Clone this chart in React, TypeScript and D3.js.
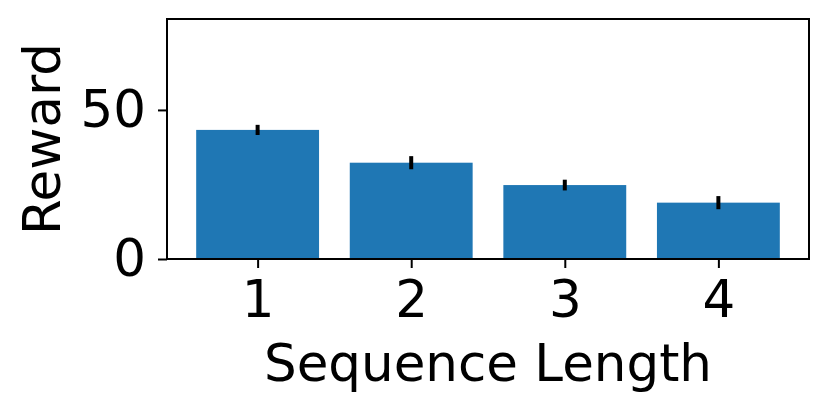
import React, { useRef, useEffect } from 'react';
import * as d3 from 'd3';

// values
const lengths = [1, 2, 3, 4];
const rewards = [43.3, 32.3, 24.8, 18.9];
const errors = [1.7, 2.2, 1.8, 2.2];
const yTicks = [0, 50];

const App = () => {
  const svgRef = useRef<SVGSVGElement>(null);

  useEffect(() => {
    const svg = d3.select(svgRef.current);
    svg.selectAll('*').remove();

    const width = 830;
    const height = 412;
    const margin = { top: 19, right: 21, bottom: 153, left: 167 };
    const font = 'DejaVu Sans';
    const fs = 51.5;

    svg.attr('width', width).attr('height', height);

    const x = d3.scaleLinear()
      .domain([0.41, 4.59])
      .range([margin.left, width - margin.right]);

    const y = d3.scaleLinear()
      .domain([0, 80.5])
      .range([height - margin.bottom, margin.top]);

    const bw = x(1.4) - x(0.6);

    svg.append('g')
      .attr('fill', '#1f77b4')
      .selectAll('rect')
      .data(lengths)
      .join('rect')
      .attr('x', (d) => x(d) - bw / 2)
      .attr('y', (d, i) => y(rewards[i]))
      .attr('width', bw)
      .attr('height', (d, i) => y(0) - y(rewards[i]));

    // error bars
    svg.append('g')
      .attr('stroke', 'black')
      .attr('stroke-width', 4)
      .selectAll('line')
      .data(lengths)
      .join('line')
      .attr('x1', (d) => x(d))
      .attr('x2', (d) => x(d))
      .attr('y1', (d, i) => y(rewards[i] - errors[i]))
      .attr('y2', (d, i) => y(rewards[i] + errors[i]));

    // frame
    svg.append('rect')
      .attr('x', margin.left)
      .attr('y', margin.top)
      .attr('width', width - margin.left - margin.right)
      .attr('height', height - margin.top - margin.bottom)
      .attr('fill', 'none')
      .attr('stroke', 'black')
      .attr('stroke-width', 2);

    const xAxis = svg.append('g')
      .attr('transform', `translate(0, ${y(0)})`)
      .call(d3.axisBottom(x).tickValues(lengths).tickFormat(d3.format('d')).tickSize(9).tickPadding(12));
    xAxis.select('.domain').remove();

    const yAxis = svg.append('g')
      .attr('transform', `translate(${margin.left}, 0)`)
      .call(d3.axisLeft(y).tickValues(yTicks).tickSize(9).tickPadding(12));
    yAxis.select('.domain').remove();

    svg.selectAll('.tick line').attr('stroke', 'black').attr('stroke-width', 2);
    svg.selectAll('.tick text')
      .attr('font-family', font)
      .attr('font-size', fs)
      .attr('fill', 'black');

    svg.append('text')
      .attr('x', (margin.left + width - margin.right) / 2)
      .attr('y', 381)
      .attr('text-anchor', 'middle')
      .attr('font-family', font)
      .attr('font-size', fs)
      .text('Sequence Length');

    svg.append('text')
      .attr('transform', `translate(60, ${(margin.top + y(0)) / 2}) rotate(-90)`)
      .attr('text-anchor', 'middle')
      .attr('font-family', font)
      .attr('font-size', fs)
      .text('Reward');
  }, []);

  return <svg ref={svgRef} style={{ position: 'absolute', left: 0, top: 0 }}></svg>;
};

export default App;
